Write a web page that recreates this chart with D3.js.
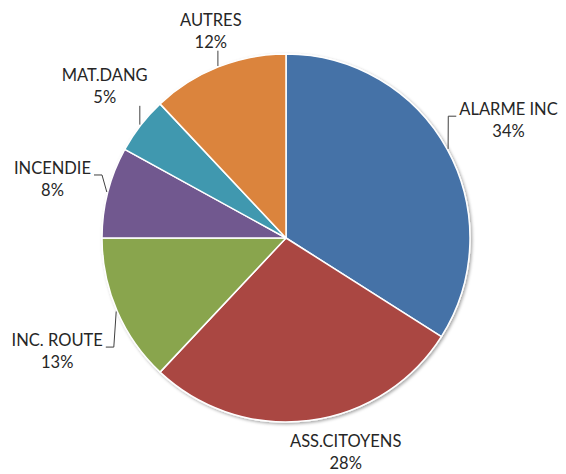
<!DOCTYPE html>
<html>
<head>
<meta charset="utf-8">
<script src="https://cdn.jsdelivr.net/npm/d3@7"></script>
<style>
  html, body { margin: 0; padding: 0; background: #fff; }
  svg { display: block; }
  text { font-family: Lato, "Open Sans", sans-serif; font-size: 16.5px; fill: #262626; }
</style>
</head>
<body>
<div class="chart"></div>
<script>
// data
var categories = ["ALARME INC", "ASS.CITOYENS", "INC. ROUTE", "INCENDIE", "MAT.DANG", "AUTRES"];
var values = [34, 28, 13, 8, 5, 12];
var colors = ["#4572A7", "#AA4643", "#89A54E", "#71588F", "#4198AF", "#DB843D"];

// label layout (degrees turned from slice middle, px beyond the rim)
var labelTurn = [0.8, -8.4, -2.8, -0.1, 2.3, 1.7];
var labelReach = [68, 38, 71, 57, 53, 37];
var showLeader = [true, false, true, true, true, true];

var w = 566, h = 474;
var cx = 286, cy = 238, r = 184;

var svg = d3.select(".chart").append("svg")
  .attr("width", w)
  .attr("height", h);

var defs = svg.append("defs");
var f = defs.append("filter").attr("id", "shadow")
  .attr("x", "-10%").attr("y", "-10%").attr("width", "120%").attr("height", "120%");
f.append("feDropShadow")
  .attr("dx", 1.5).attr("dy", 1.5).attr("stdDeviation", 1.5)
  .attr("flood-color", "#000").attr("flood-opacity", 0.35);

var pie = d3.pie().sort(null).value(function(d) { return d; });
var arcs = pie(values);

var arc = d3.arc().innerRadius(0).outerRadius(r);

var g = svg.append("g").attr("transform", "translate(" + cx + "," + cy + ")");

g.append("g").attr("filter", "url(#shadow)")
  .selectAll("path")
  .data(arcs)
  .enter()
  .append("path")
  .attr("d", arc)
  .attr("fill", function(d, i) { return colors[i]; })
  .attr("stroke", "#fff")
  .attr("stroke-width", 1.5)
  .attr("stroke-linejoin", "round");

function polar(a, rad) {
  return [rad * Math.sin(a), -rad * Math.cos(a)];
}

var labels = g.append("g");
var leaders = g.append("g");

arcs.forEach(function(d, i) {
  var mid = (d.startAngle + d.endAngle) / 2;
  var a = mid + labelTurn[i] * Math.PI / 180;
  var c = polar(a, r + labelReach[i]);
  var base1 = c[1] - 4.5, base2 = c[1] + 17.5;

  var t1 = labels.append("text")
    .attr("x", c[0]).attr("y", base1)
    .attr("text-anchor", "middle")
    .text(categories[i]);
  var t2 = labels.append("text")
    .attr("x", c[0]).attr("y", base2)
    .attr("text-anchor", "middle")
    .text(values[i] + "%");

  if (!showLeader[i]) return;

  var w1 = t1.node().getComputedTextLength();
  var w2 = t2.node().getComputedTextLength();
  var p = polar(mid, r + 1);
  var pts;

  if (Math.abs(c[0] - p[0]) < w1 / 2) {
    // label sits above or below the point
    var yEdge = p[1] < c[1] ? c[1] - 20 : base2 + 3;
    pts = [[p[0], yEdge], p];
  } else if (c[0] > p[0]) {
    var ax = c[0] - w1 / 2 - 3, ay = base1 + 1;
    pts = [[ax, ay], [ax - 8, ay], p];
  } else {
    var useFirst = c[0] + w1 / 2 + 10 <= p[0];
    var ww = useFirst ? w1 : w2;
    var bx = c[0] + ww / 2 + 3, by = (useFirst ? base1 : base2) + 1;
    pts = [[bx, by], [bx + 8, by], p];
  }

  leaders.append("path")
    .attr("d", d3.line()(pts))
    .attr("fill", "none")
    .attr("stroke", "#404040")
    .attr("stroke-width", 1);
});
</script>
</body>
</html>
